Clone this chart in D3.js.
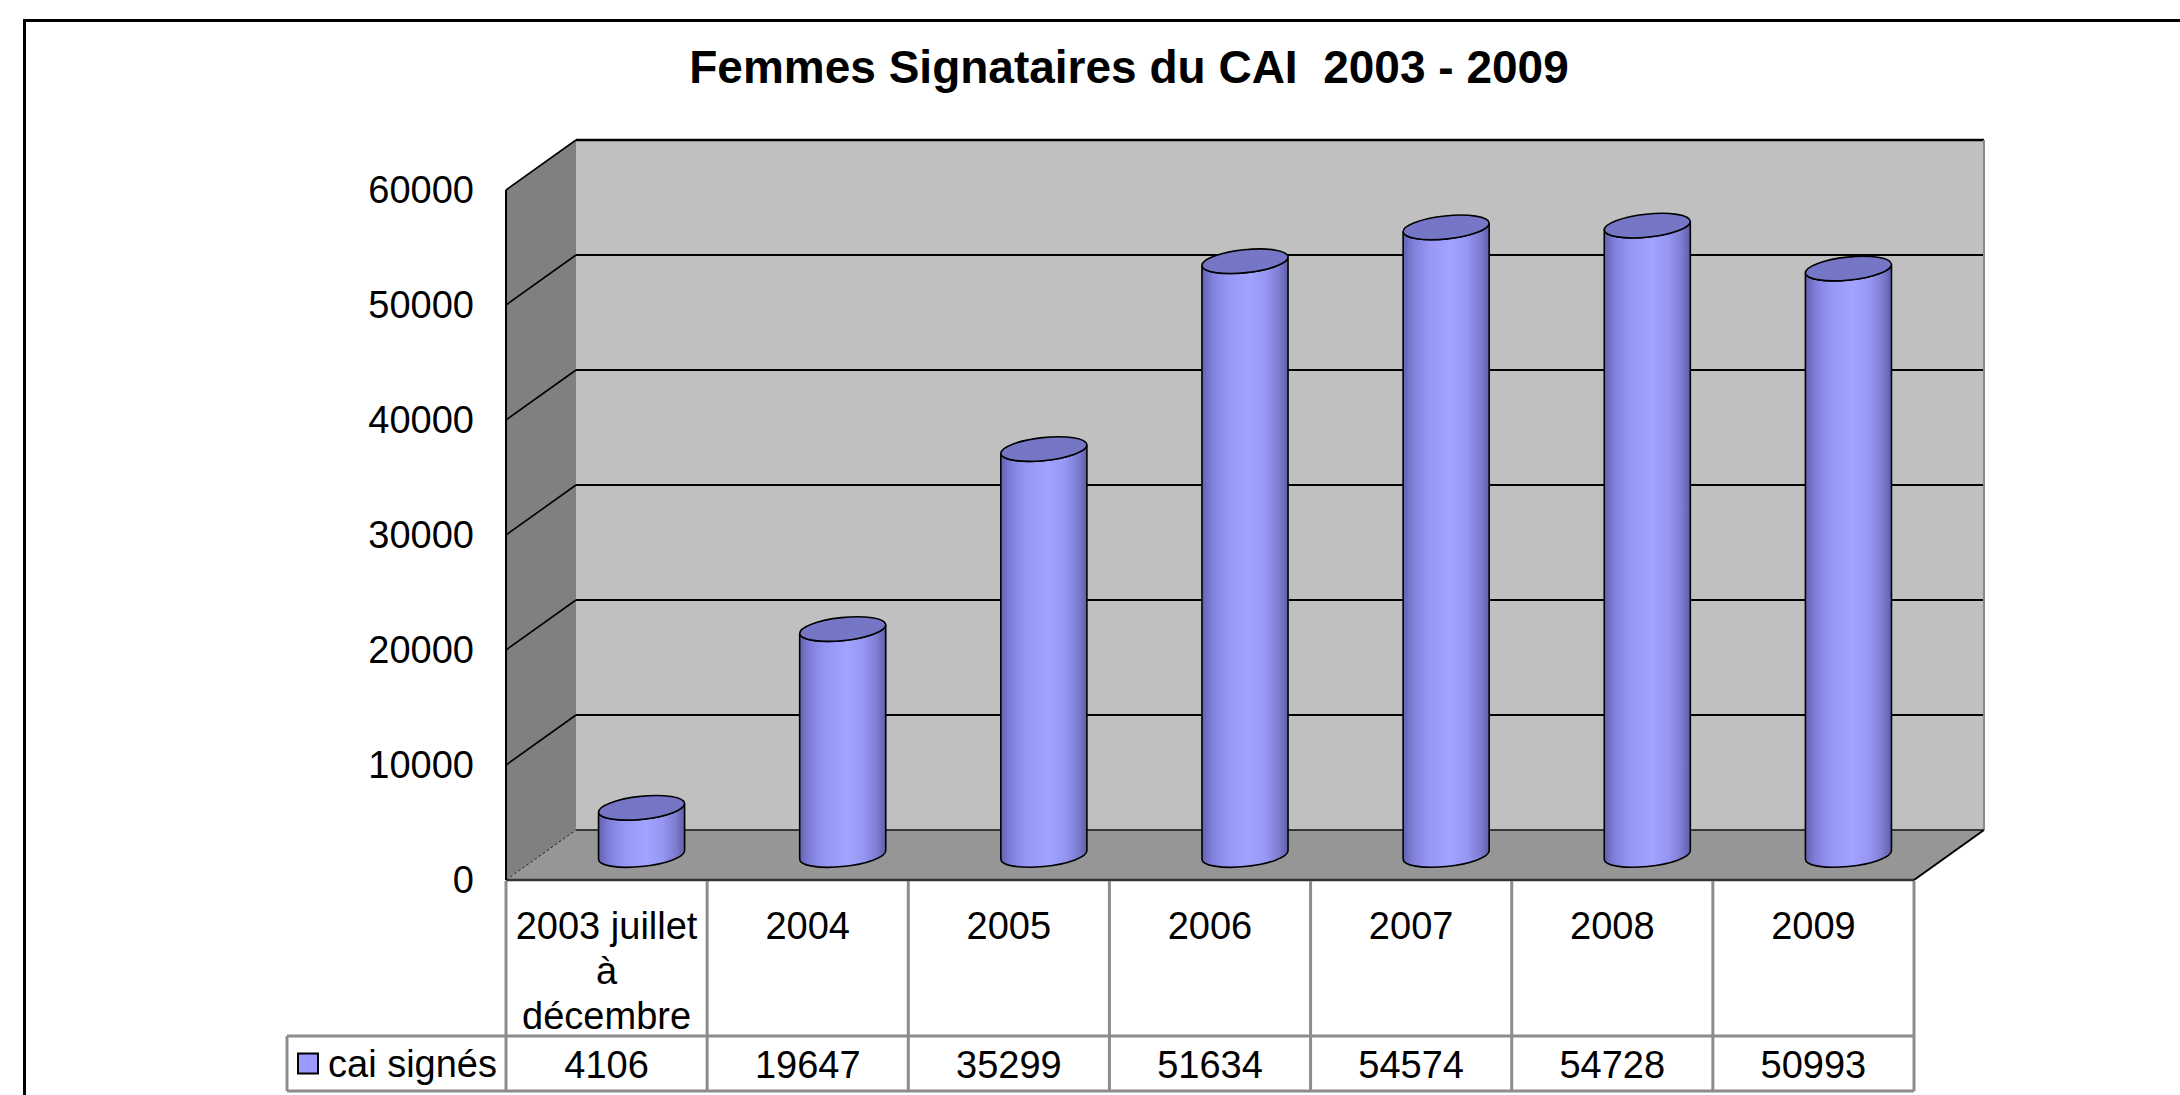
<!DOCTYPE html>
<html>
<head>
<meta charset="utf-8">
<script src="https://cdnjs.cloudflare.com/ajax/libs/d3/7.8.5/d3.min.js"></script>
<style>
  html, body { margin: 0; padding: 0; background: #ffffff; }
  svg { display: block; }
  text { font-family: "Liberation Sans", Arial, sans-serif; fill: #000; white-space: pre; }
</style>
</head>
<body>
<svg id="chart" width="2180" height="1095"></svg>
<script>
// ---- data ----
const title = "Femmes Signataires du CAI  2003 - 2009";
const categories = ["2003 juillet à décembre", "2004", "2005", "2006", "2007", "2008", "2009"];
const categoryLines = [["2003 juillet", "à", "décembre"], ["2004"], ["2005"], ["2006"], ["2007"], ["2008"], ["2009"]];
const seriesName = "cai signés";
const values = [4106, 19647, 35299, 51634, 54574, 54728, 50993];
const yTicks = [0, 10000, 20000, 30000, 40000, 50000, 60000];

// ---- layout ----
const svg = d3.select("#chart");
const W = 2180, H = 1095;
const front = { left: 506, right: 1914, bottom: 880, top: 190 };
const depth = { dx: 70, dy: -50 };
const tableRow1Bottom = 1036, tableRow2Bottom = 1091, legendLeft = 287;
const fontSize = 38;

const x = d3.scaleBand().domain(categories).range([front.left, front.right]).padding(0);
const y = d3.scaleLinear().domain([0, 60000]).range([front.bottom, front.top]);
const yAt = (v, f) => y(v) + depth.dy * f; // f = depth fraction (0 front, 1 back)

const defs = svg.append("defs");
const grad = defs.append("linearGradient").attr("id", "cyl").attr("x1", 0).attr("x2", 1).attr("y1", 0).attr("y2", 0);
[[0, "#6262b0"], [0.12, "#8080dc"], [0.3, "#9696f6"], [0.55, "#a2a2ff"], [0.75, "#9595f2"], [0.9, "#7c7cd0"], [1, "#5e5ea8"]]
  .forEach(([o, c]) => grad.append("stop").attr("offset", o).attr("stop-color", c));

// back wall
const bx0 = front.left + depth.dx, bx1 = front.right + depth.dx;
svg.append("rect").attr("x", bx0).attr("y", yAt(60000, 1)).attr("width", bx1 - bx0)
  .attr("height", yAt(0, 1) - yAt(60000, 1)).attr("fill", "#c0c0c0");
// left wall
svg.append("polygon").attr("points", [
  [front.left, y(60000)], [bx0, yAt(60000, 1)], [bx0, yAt(0, 1)], [front.left, y(0)]
].map(p => p.join(",")).join(" ")).attr("fill", "#808080");
// floor
svg.append("polygon").attr("points", [
  [front.left, y(0)], [bx0, yAt(0, 1)], [bx1, yAt(0, 1)], [front.right, y(0)]
].map(p => p.join(",")).join(" ")).attr("fill", "#969696");

// gridlines
yTicks.forEach(v => {
  if (v > 0) {
    svg.append("line").attr("x1", bx0).attr("x2", bx1).attr("y1", yAt(v, 1)).attr("y2", yAt(v, 1))
      .attr("stroke", "#000").attr("stroke-width", v === 60000 ? 2.5 : 2);
    svg.append("line").attr("x1", front.left).attr("x2", bx0).attr("y1", y(v)).attr("y2", yAt(v, 1))
      .attr("stroke", "#000").attr("stroke-width", 1.6);
  } else {
    svg.append("line").attr("x1", bx0).attr("x2", bx1).attr("y1", yAt(0, 1)).attr("y2", yAt(0, 1))
      .attr("stroke", "#111").attr("stroke-width", 1.6);
    svg.append("line").attr("x1", front.left).attr("x2", bx0).attr("y1", y(0)).attr("y2", yAt(0, 1))
      .attr("stroke", "#222").attr("stroke-width", 1).attr("stroke-dasharray", "3,2");
  }
});
// back wall right edge
svg.append("line").attr("x1", bx1).attr("x2", bx1).attr("y1", yAt(60000, 1)).attr("y2", yAt(0, 1))
  .attr("stroke", "#8a8a8a").attr("stroke-width", 2);
// floor right diagonal & front edge
svg.append("line").attr("x1", front.right).attr("x2", bx1).attr("y1", y(0)).attr("y2", yAt(0, 1))
  .attr("stroke", "#000").attr("stroke-width", 2);
svg.append("line").attr("x1", front.left).attr("x2", front.right).attr("y1", y(0)).attr("y2", y(0))
  .attr("stroke", "#333").attr("stroke-width", 2.5);
// left wall front edge
svg.append("line").attr("x1", front.left).attr("x2", front.left).attr("y1", y(60000)).attr("y2", y(0))
  .attr("stroke", "#000").attr("stroke-width", 2);

// cylinders
const rx = x.bandwidth() * 0.215, ry = 11.5, rotDeg = -6, th = rotDeg * Math.PI / 180;
const t0 = Math.atan(-(ry * Math.sin(th)) / (rx * Math.cos(th)));
const P = (cx, cy, t) => [cx + rx * Math.cos(t) * Math.cos(th) - ry * Math.sin(t) * Math.sin(th),
                          cy + rx * Math.cos(t) * Math.sin(th) + ry * Math.sin(t) * Math.cos(th)];
const g = svg.append("g");
categories.forEach((c, i) => {
  const cx = x(c) + x.bandwidth() / 2 + depth.dx / 2;
  const yb = yAt(0, 0.5), yt = yAt(values[i], 0.5);
  const Rt = P(cx, yt, t0), Lt = P(cx, yt, t0 + Math.PI);
  const Rb = P(cx, yb, t0), Lb = P(cx, yb, t0 + Math.PI);
  const d = `M${Rt} L${Rb} A${rx} ${ry} ${rotDeg} 0 1 ${Lb} L${Lt} A${rx} ${ry} ${rotDeg} 0 0 ${Rt} Z`;
  g.append("path").attr("d", d).attr("fill", "url(#cyl)").attr("stroke", "#000").attr("stroke-width", 1.6);
  g.append("ellipse").attr("cx", cx).attr("cy", yt).attr("rx", rx).attr("ry", ry)
    .attr("transform", `rotate(${rotDeg},${cx},${yt})`)
    .attr("fill", "#7676c6").attr("stroke", "#000").attr("stroke-width", 1.6);
});

// y tick labels
svg.append("g").selectAll("text").data(yTicks).join("text")
  .attr("x", 474).attr("y", d => y(d)).attr("dy", "0.35em").attr("text-anchor", "end")
  .attr("font-size", fontSize).text(d => d);

// data table
const tbl = svg.append("g");
const gray = "#8c8c8c";
const lineT = (x1, y1, x2, y2) => tbl.append("line").attr("x1", x1).attr("y1", y1).attr("x2", x2).attr("y2", y2)
  .attr("stroke", gray).attr("stroke-width", 3);
categories.forEach(c => lineT(x(c), front.bottom + 1, x(c), tableRow2Bottom));
lineT(front.right, front.bottom + 1, front.right, tableRow2Bottom);
lineT(legendLeft, tableRow1Bottom, front.right, tableRow1Bottom);
lineT(legendLeft, tableRow2Bottom, front.right, tableRow2Bottom);
lineT(legendLeft, tableRow1Bottom, legendLeft, tableRow2Bottom);

categories.forEach((c, i) => {
  const cx = x(c) + x.bandwidth() / 2;
  const t = tbl.append("text").attr("text-anchor", "middle").attr("font-size", fontSize);
  categoryLines[i].forEach((ln, k) => {
    t.append("tspan").attr("x", cx).attr("y", 926 + k * 45).attr("dy", "0.35em").text(ln);
  });
  tbl.append("text").attr("x", cx).attr("y", (tableRow1Bottom + tableRow2Bottom) / 2 + 1).attr("dy", "0.35em")
    .attr("text-anchor", "middle").attr("font-size", fontSize).text(values[i]);
});
// legend key
const ly = (tableRow1Bottom + tableRow2Bottom) / 2;
tbl.append("rect").attr("x", 298).attr("y", ly - 10).attr("width", 20).attr("height", 20)
  .attr("fill", "#9999ff").attr("stroke", "#000").attr("stroke-width", 2);
tbl.append("text").attr("x", 328).attr("y", ly).attr("dy", "0.35em").attr("font-size", fontSize).text(seriesName);

// title
svg.append("text").attr("x", 1129).attr("y", 83).attr("text-anchor", "middle")
  .attr("font-size", 46).attr("font-weight", "bold").attr("xml:space", "preserve").text(title);

// outer border
svg.append("rect").attr("x", 24.5).attr("y", 20.5).attr("width", W + 50).attr("height", H + 50)
  .attr("fill", "none").attr("stroke", "#000").attr("stroke-width", 3);
</script>
</body>
</html>
